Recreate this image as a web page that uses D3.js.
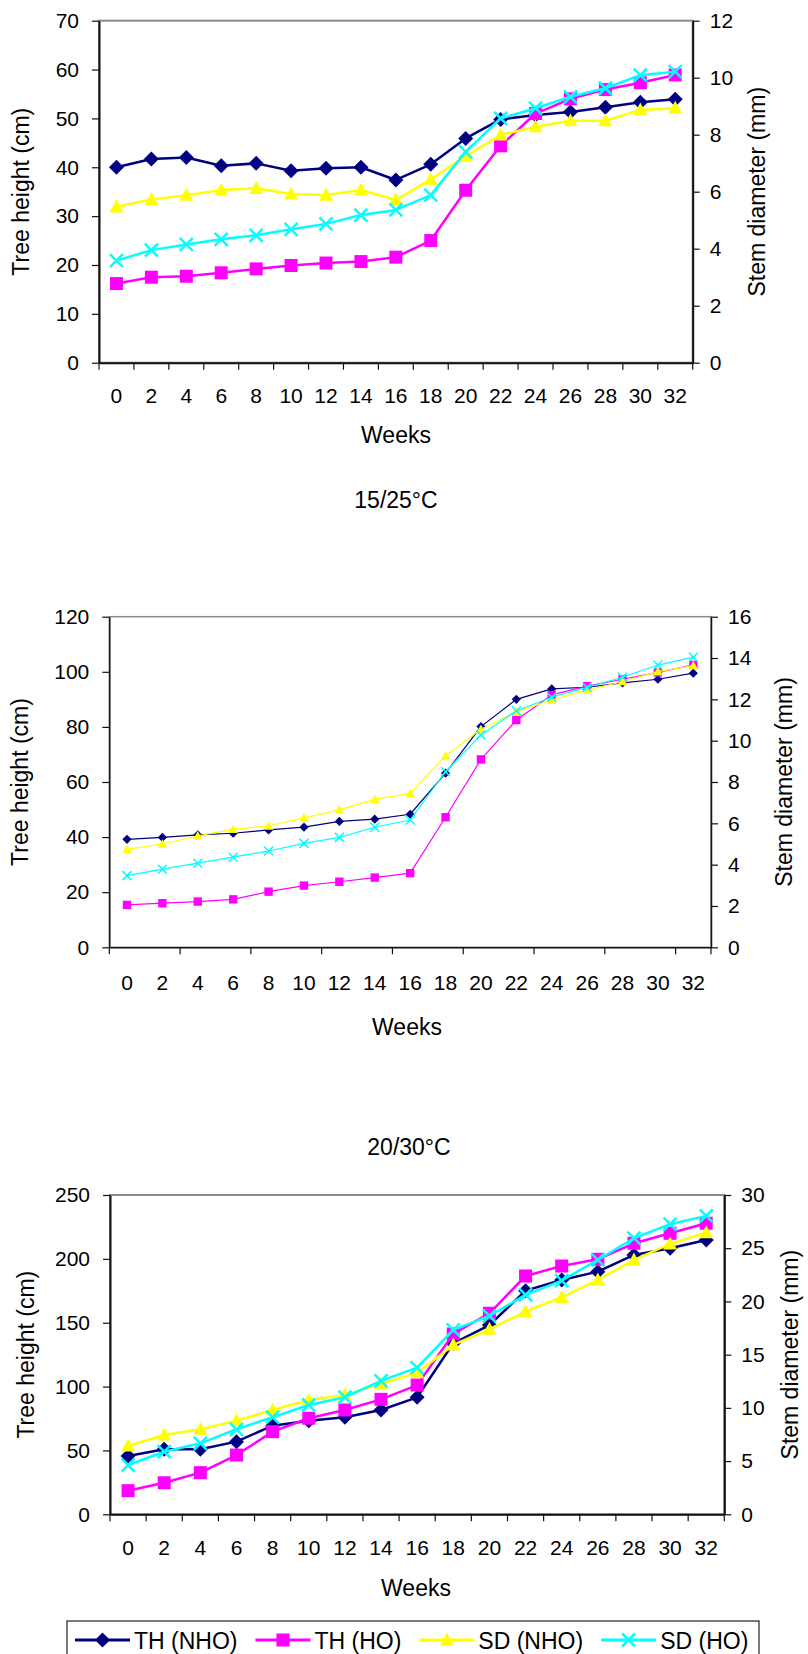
<!DOCTYPE html>
<html>
<head>
<meta charset="utf-8">
<script src="https://cdn.jsdelivr.net/npm/d3@7"></script>
<style>
  body { margin: 0; background: #fff; }
  svg { display: block; }
  text { font-family: "Liberation Sans", Arial, sans-serif; fill: #000; }
</style>
</head>
<body>
<svg id="chart" width="808" height="1654"></svg>
<script>
// ---- data ----
const weeks = [0, 2, 4, 6, 8, 10, 12, 14, 16, 18, 20, 22, 24, 26, 28, 30, 32];
const seriesNames = ["TH (NHO)", "TH (HO)", "SD (NHO)", "SD (HO)"];
const titles = [null, "15/25°C", "20/30°C"];

// first panel (no title visible)
const p1_thNHO = [40.0, 41.7, 42.0, 40.3, 40.8, 39.3, 39.8, 40.0, 37.4, 40.6, 45.9, 49.8, 50.7, 51.3, 52.3, 53.3, 53.9];
const p1_thHO = [16.2, 17.5, 17.7, 18.4, 19.2, 19.9, 20.4, 20.7, 21.6, 25.0, 35.3, 44.4, 51.0, 54.0, 55.9, 57.3, 58.9];
const p1_sdNHO = [5.47, 5.73, 5.88, 6.06, 6.12, 5.92, 5.88, 6.06, 5.71, 6.43, 7.25, 7.99, 8.28, 8.49, 8.49, 8.87, 8.93];
const p1_sdHO = [3.58, 3.95, 4.15, 4.33, 4.47, 4.68, 4.87, 5.18, 5.36, 5.88, 7.40, 8.57, 8.93, 9.33, 9.63, 10.09, 10.21];

// 15/25°C
const p2_thNHO = [39.2, 39.9, 40.8, 41.4, 42.6, 43.6, 45.7, 46.5, 48.3, 63.2, 80.1, 90.0, 93.8, 94.4, 96.0, 97.3, 99.5];
const p2_thHO = [15.4, 16.0, 16.6, 17.4, 20.2, 22.4, 23.8, 25.3, 26.9, 47.2, 68.2, 82.5, 91.6, 94.8, 97.3, 99.8, 102.5];
const p2_sdNHO = [4.74, 5.00, 5.39, 5.71, 5.87, 6.26, 6.65, 7.16, 7.45, 9.27, 10.55, 11.40, 11.97, 12.45, 12.86, 13.34, 13.63];
const p2_sdHO = [3.47, 3.78, 4.07, 4.36, 4.66, 5.03, 5.32, 5.81, 6.16, 8.50, 10.28, 11.45, 12.10, 12.58, 13.07, 13.66, 14.04];

// 20/30°C
const p3_thNHO = [45.6, 50.9, 50.9, 56.9, 69.4, 73.3, 76.0, 81.7, 91.6, 133.9, 148.2, 175.1, 183.5, 190.0, 203.1, 208.3, 214.8];
const p3_thHO = [18.5, 24.7, 32.6, 46.4, 64.7, 75.2, 81.7, 90.0, 101.2, 141.2, 157.4, 186.6, 194.4, 199.7, 212.2, 220.0, 227.9];
const p3_sdNHO = [6.42, 7.45, 7.99, 8.80, 9.80, 10.74, 11.21, 12.25, 13.31, 15.91, 17.39, 19.04, 20.39, 22.02, 23.90, 25.40, 26.47];
const p3_sdHO = [4.63, 5.88, 6.67, 7.99, 9.12, 10.27, 11.00, 12.53, 13.78, 17.32, 18.64, 20.61, 21.96, 23.90, 25.94, 27.26, 28.04];

// axis maxima / steps per panel
const leftMax = [70, 120, 250];
const leftStep = [10, 20, 50];
const rightMax = [12, 16, 30];
const rightStep = [2, 2, 5];

// ---- styles ----
const colors = ["#000080", "#FF00FF", "#FFFF00", "#00FFFF"];
const shapes = ["diamond", "square", "triangle", "x"];
const useRight = [false, false, true, true];
const fontTick = 21;
const fontTitle = 23;

const svg = d3.select("#chart");

// layout of each panel (pixels)
const panels = [
  { l: 99, r: 692.7, t: 20.7, b: 362.7, tickEvery: 1, lw: 2.5, big: true, axisW: 2,
    tickY: 396, weeksX: 396, weeksY: 435, leftTX: 21, rightTX: 757, titleX: 396, titleY: 0,
    series: [p1_thNHO, p1_thHO, p1_sdNHO, p1_sdHO] },
  { l: 109.3, r: 711, t: 616.7, b: 947.3, tickEvery: 2, lw: 1.2, big: false, axisW: 1.5,
    tickY: 983, weeksX: 407, weeksY: 1027, leftTX: 20, rightTX: 784, titleX: 396, titleY: 500,
    series: [p2_thNHO, p2_thHO, p2_sdNHO, p2_sdHO] },
  { l: 110, r: 724.3, t: 1195, b: 1514.3, tickEvery: 1, lw: 2.5, big: true, axisW: 2,
    tickY: 1548, weeksX: 416, weeksY: 1588, leftTX: 26, rightTX: 790, titleX: 409, titleY: 1147,
    series: [p3_thNHO, p3_thHO, p3_sdNHO, p3_sdHO] }
];

function markerPath(shape, s) {
  if (shape === "diamond") return `M0,${-s}L${s},0L0,${s}L${-s},0Z`;
  if (shape === "triangle") return `M0,${-s * 1.05}L${s},${s * 0.8}L${-s},${s * 0.8}Z`;
  if (shape === "square") return `M${-s},${-s}H${s}V${s}H${-s}Z`;
  return `M${-s},${-s}L${s},${s}M${-s},${s}L${s},${-s}`;
}

function markerSize(shape, big) {
  const sizes = big
    ? { diamond: 7.5, square: 6.5, triangle: 7, x: 6.5 }
    : { diamond: 4.6, square: 4.2, triangle: 4.6, x: 4.5 };
  return sizes[shape];
}

function drawMarker(g, shape, color, big) {
  const p = g.append("path").attr("d", markerPath(shape, markerSize(shape, big)));
  if (shape === "x") {
    p.attr("fill", "none").attr("stroke", color).attr("stroke-width", big ? 2.5 : 1.5);
  } else {
    p.attr("fill", color);
  }
  return p;
}

panels.forEach((pn, pi) => {
  const g = svg.append("g");

  const x = d3.scaleBand().domain(weeks).range([pn.l, pn.r]).padding(0);
  const yL = d3.scaleLinear().domain([0, leftMax[pi]]).range([pn.b, pn.t]);
  const yR = d3.scaleLinear().domain([0, rightMax[pi]]).range([pn.b, pn.t]);

  // plot area border (grey)
  g.append("rect")
    .attr("x", pn.l).attr("y", pn.t)
    .attr("width", pn.r - pn.l).attr("height", pn.b - pn.t)
    .attr("fill", "none").attr("stroke", "#8a8a8a").attr("stroke-width", pn.axisW);

  // left axis
  const axL = g.append("g").attr("transform", `translate(${pn.l},0)`)
    .call(d3.axisLeft(yL).tickValues(d3.range(0, leftMax[pi] + 1, leftStep[pi]))
      .tickSize(7).tickSizeOuter(0).tickPadding(13));
  // right axis
  const axR = g.append("g").attr("transform", `translate(${pn.r},0)`)
    .call(d3.axisRight(yR).tickValues(d3.range(0, rightMax[pi] + 1, rightStep[pi]))
      .tickSize(7).tickSizeOuter(0).tickPadding(10));
  // bottom axis, labels only; ticks at band edges drawn below
  const axB = g.append("g").attr("transform", `translate(0,${pn.b})`)
    .call(d3.axisBottom(x).tickSize(0).tickSizeOuter(0));
  axB.selectAll(".tick text").attr("y", pn.tickY - pn.b).attr("dy", "0.35em");

  [axL, axR, axB].forEach(a => {
    a.attr("font-family", null).attr("font-size", null);
    a.select(".domain").attr("stroke", "#111").attr("stroke-width", pn.axisW);
    a.selectAll(".tick line").attr("stroke", "#111").attr("stroke-width", 1.2);
    a.selectAll(".tick text").style("font-size", fontTick + "px").attr("fill", "#000");
  });

  const edges = d3.range(0, weeks.length, pn.tickEvery).map(i => pn.l + i * x.step());
  edges.push(pn.r);
  g.append("g").selectAll("line").data(edges).join("line")
    .attr("x1", d => d).attr("x2", d => d)
    .attr("y1", pn.b).attr("y2", pn.b + 7)
    .attr("stroke", "#111").attr("stroke-width", 1.2);

  // series: line then markers, in legend order
  pn.series.forEach((vals, si) => {
    const y = useRight[si] ? yR : yL;
    const pts = vals.map((v, i) => [x(weeks[i]) + x.bandwidth() / 2, y(v)]);
    const sg = g.append("g");
    sg.append("path")
      .attr("d", d3.line()(pts))
      .attr("fill", "none")
      .attr("stroke", colors[si])
      .attr("stroke-width", pn.lw)
      .attr("stroke-linejoin", "round");
    pts.forEach(p => {
      drawMarker(sg.append("g").attr("transform", `translate(${p[0]},${p[1]})`),
        shapes[si], colors[si], pn.big);
    });
  });

  // titles
  if (titles[pi]) {
    g.append("text").attr("x", pn.titleX).attr("y", pn.titleY).attr("dy", "0.35em")
      .attr("text-anchor", "middle").style("font-size", fontTitle + "px").text(titles[pi]);
  }
  g.append("text").attr("x", pn.weeksX).attr("y", pn.weeksY).attr("dy", "0.35em")
    .attr("text-anchor", "middle").style("font-size", fontTitle + "px").text("Weeks");
  const midY = (pn.t + pn.b) / 2;
  g.append("text")
    .attr("transform", `translate(${pn.leftTX},${midY}) rotate(-90)`)
    .attr("dy", "0.35em").attr("text-anchor", "middle")
    .style("font-size", fontTitle + "px").text("Tree height (cm)");
  g.append("text")
    .attr("transform", `translate(${pn.rightTX},${midY}) rotate(-90)`)
    .attr("dy", "0.35em").attr("text-anchor", "middle")
    .style("font-size", fontTitle + "px").text("Stem diameter (mm)");
});

// ---- legend ----
const legend = svg.append("g");
legend.append("rect")
  .attr("x", 67).attr("y", 1621).attr("width", 692).attr("height", 44)
  .attr("fill", "#fff").attr("stroke", "#222").attr("stroke-width", 1.2);

let lx = 75;
const ly = 1640;
seriesNames.forEach((name, i) => {
  const item = legend.append("g");
  item.append("line")
    .attr("x1", lx).attr("x2", lx + 55).attr("y1", ly).attr("y2", ly)
    .attr("stroke", colors[i]).attr("stroke-width", 3);
  drawMarker(item.append("g").attr("transform", `translate(${lx + 27.5},${ly})`),
    shapes[i], colors[i], true);
  const t = item.append("text")
    .attr("x", lx + 59).attr("y", ly + 1).attr("dy", "0.35em")
    .style("font-size", fontTitle + "px").text(name);
  lx += 59 + t.node().getComputedTextLength() + 18;
});
</script>
</body>
</html>
